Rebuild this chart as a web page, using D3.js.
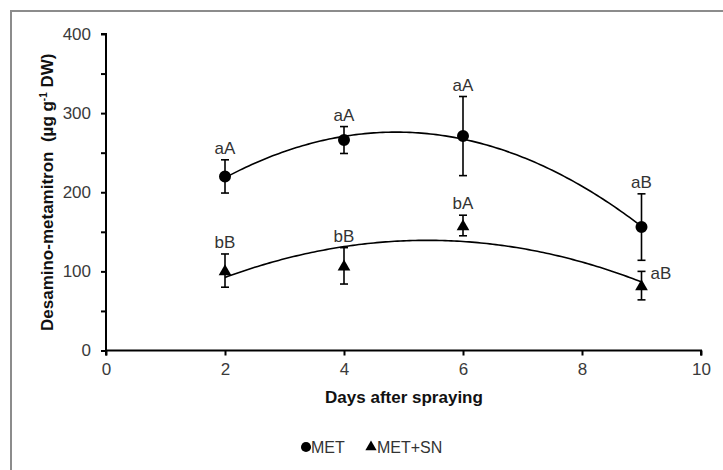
<!DOCTYPE html>
<html>
<head>
<meta charset="utf-8">
<script src="https://cdn.jsdelivr.net/npm/d3@7"></script>
<style>
  html, body { margin: 0; padding: 0; background: #fff; }
  svg { display: block; font-family: "Liberation Sans", Arial, sans-serif; }
</style>
</head>
<body>
<svg id="chart" width="723" height="470"></svg>
<script>
// Sampling days
const days = [2, 4, 6, 9];

// Desamino-metamitron content (µg g-1 DW), means and standard errors
const metMean = [220, 266, 271, 156];
const metErr = [21, 17, 50, 42];
const metLetters = ["aA", "aA", "aA", "aB"];

const metSnMean = [101, 107, 158, 82];
const metSnErr = [21, 23, 13, 18];
const metSnLetters = ["bB", "bB", "bA", "aB"];

// Axis ticks
const xTicks = [0, 2, 4, 6, 8, 10];
const yTicks = [0, 50, 100, 150, 200, 250, 300, 350, 400];
const yLabelTicks = [0, 100, 200, 300, 400];

const svg = d3.select("#chart");
const x = d3.scaleLinear().domain([0, 10]).range([106, 701]);
const y = d3.scaleLinear().domain([0, 400]).range([350.5, 34]);

// Outer chart frame (top and left edges visible)
svg.append("path")
  .attr("d", "M11,480 L11,11 L740,11")
  .attr("fill", "none")
  .attr("stroke", "#8c8c8c")
  .attr("stroke-width", 2);

// Least-squares second-order polynomial fit: y = c + b x + a x^2
function quadFit(xs, ys) {
  let s = [0, 0, 0, 0, 0], t = [0, 0, 0];
  xs.forEach((xi, i) => {
    for (let k = 0; k < 5; k++) s[k] += Math.pow(xi, k);
    for (let k = 0; k < 3; k++) t[k] += ys[i] * Math.pow(xi, k);
  });
  const M = [[s[0], s[1], s[2], t[0]], [s[1], s[2], s[3], t[1]], [s[2], s[3], s[4], t[2]]];
  for (let i = 0; i < 3; i++) {
    for (let j = i + 1; j < 3; j++) {
      const f = M[j][i] / M[i][i];
      for (let k = i; k < 4; k++) M[j][k] -= f * M[i][k];
    }
  }
  const r = [0, 0, 0];
  for (let i = 2; i >= 0; i--) {
    let v = M[i][3];
    for (let k = i + 1; k < 3; k++) v -= M[i][k] * r[k];
    r[i] = v / M[i][i];
  }
  return xv => r[0] + r[1] * xv + r[2] * xv * xv;
}

// Axes
const yAxis = d3.axisLeft(y).tickValues(yTicks).tickSize(5).tickPadding(10)
  .tickFormat(d => yLabelTicks.includes(d) ? d : "");
const xAxis = d3.axisBottom(x).tickValues(xTicks).tickSize(5).tickPadding(7);

const gy = svg.append("g").attr("transform", `translate(${x(0)},0)`).call(yAxis);
const gx = svg.append("g").attr("transform", `translate(0,${y(0)})`).call(xAxis);
[gx, gy].forEach(g => {
  g.select(".domain").attr("stroke", "#000").attr("stroke-width", 2);
  g.selectAll(".tick line").attr("stroke", "#000").attr("stroke-width", 2);
  g.selectAll(".tick text").attr("fill", "#3a3a3a").style("font-size", "17px")
    .style("font-family", "'Liberation Sans', Arial, sans-serif");
});
gy.select(".domain").attr("d", `M-5,${y(400)}H0V${y(0)}`);
gx.select(".domain").attr("d", `M${x(0)},5V0H${x(10)}V5`);

// Axis titles
svg.append("text")
  .attr("x", 404).attr("y", 403)
  .attr("text-anchor", "middle")
  .style("font-size", "17px").style("font-weight", "bold").attr("fill", "#111")
  .text("Days after spraying");

const yt = svg.append("text")
  .attr("transform", `translate(53,${(y(0) + y(400)) / 2}) rotate(-90)`)
  .attr("text-anchor", "middle")
  .style("white-space", "pre")
  .style("font-size", "17px").style("font-weight", "bold").attr("fill", "#111");
yt.append("tspan").text("Desamino-metamitron  (µg g");
yt.append("tspan").attr("dy", -6).style("font-size", "10px").text("-1");
yt.append("tspan").attr("dy", 6).text(" DW)");

// Series definitions
const series = [
  { mean: metMean, err: metErr, letters: metLetters, shape: d3.symbolCircle, size: 113 },
  { mean: metSnMean, err: metSnErr, letters: metSnLetters, shape: d3.symbolTriangle, size: 70 }
];

series.forEach((s, si) => {
  // Trend line
  const f = quadFit(days, s.mean);
  const xs = d3.range(days[0], days[days.length - 1] + 0.001, 0.05);
  svg.append("path")
    .datum(xs)
    .attr("fill", "none")
    .attr("stroke", "#000")
    .attr("stroke-width", 1.6)
    .attr("d", d3.line().x(d => x(d)).y(d => y(f(d))));

  const pts = days.map((d, i) => ({ d, m: s.mean[i], e: s.err[i], l: s.letters[i] }));
  const g = svg.append("g");

  // Error bars
  const eb = g.selectAll(".eb").data(pts).enter().append("g");
  eb.append("line")
    .attr("x1", p => x(p.d)).attr("x2", p => x(p.d))
    .attr("y1", p => y(p.m - p.e)).attr("y2", p => y(p.m + p.e))
    .attr("stroke", "#000").attr("stroke-width", 1.6);
  [-1, 1].forEach(sign => {
    eb.append("line")
      .attr("x1", p => x(p.d) - 4).attr("x2", p => x(p.d) + 4)
      .attr("y1", p => y(p.m + sign * p.e)).attr("y2", p => y(p.m + sign * p.e))
      .attr("stroke", "#000").attr("stroke-width", 1.6);
  });

  // Markers
  g.selectAll(".mk").data(pts).enter().append("path")
    .attr("d", d3.symbol().type(s.shape).size(s.size))
    .attr("transform", p => `translate(${x(p.d)},${y(p.m) + (si === 1 ? 1 : 0)})`)
    .attr("fill", "#000");

  // Significance letters
  const isRight = (i) => si === 1 && i === pts.length - 1;
  g.selectAll(".lb").data(pts).enter().append("text")
    .attr("x", (p, i) => isRight(i) ? x(p.d) + 9 : x(p.d))
    .attr("y", (p, i) => isRight(i) ? y(p.m + p.e) + 8 : y(p.m + p.e) - 6)
    .attr("text-anchor", (p, i) => isRight(i) ? "start" : "middle")
    .style("font-size", "17px").attr("fill", "#333")
    .text(p => p.l);
});

// Legend
const legend = svg.append("g").attr("transform", "translate(306,447)");
legend.append("path").attr("d", d3.symbol().type(d3.symbolCircle).size(80)).attr("fill", "#000");
legend.append("text").attr("x", 5).attr("y", 6).style("font-size", "16px").attr("fill", "#333").text("MET");
legend.append("path").attr("transform", "translate(65,0)")
  .attr("d", d3.symbol().type(d3.symbolTriangle).size(55)).attr("fill", "#000");
legend.append("text").attr("x", 71).attr("y", 6).style("font-size", "16px").attr("fill", "#333").text("MET+SN");
</script>
</body>
</html>
